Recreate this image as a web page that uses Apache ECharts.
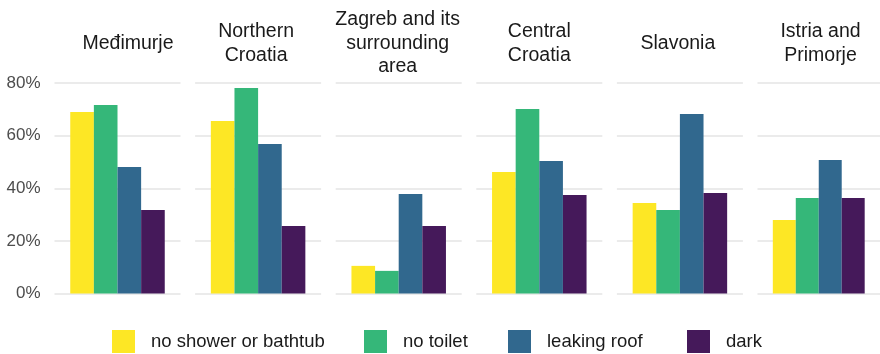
<!DOCTYPE html>
<html>
<head>
<meta charset="utf-8">
<script src="https://cdn.jsdelivr.net/npm/echarts@6/dist/echarts.min.js"></script>
<style>html,body{margin:0;padding:0;background:#fff}#c{width:880px;height:354px}</style>
</head>
<body>
<div id="c"></div>
<script>
const regions = ['Međimurje', 'Northern\nCroatia', 'Zagreb and its\nsurrounding\narea', 'Central\nCroatia', 'Slavonia', 'Istria and\nPrimorje'];
const seriesNames = ['no shower or bathtub', 'no toilet', 'leaking roof', 'dark'];
const noShower    = [69.0, 65.6, 10.5, 46.2, 34.4, 27.9];
const noToilet    = [71.6, 78.1,  8.6, 70.1, 31.7, 36.3];
const leakingRoof = [48.1, 56.8, 37.8, 50.4, 68.2, 50.7];
const dark        = [31.7, 25.7, 25.7, 37.4, 38.2, 36.3];
const yTicks = [0, 20, 40, 60, 80];

const values = [noShower, noToilet, leakingRoof, dark];
const colors = ['#FDE725', '#35B779', '#31688E', '#45195A'];

// layout
const panelLeft0 = 54.5, panelStep = 140.6, panelW = 126;
const gridTop = 83, gridH = 210.5;
const titleCenterY = 43.5, titleLH = 23.5;
const titleShift = [10.5, -2, -1, 0, -2, 0];
const legendLefts = [112, 364, 508, 687];
const FONT = 'Liberation Sans';

const grids = [], xAxes = [], yAxes = [], series = [], titles = [];
regions.forEach((r, i) => {
  const left = panelLeft0 + i * panelStep;
  grids.push({ left: left, top: gridTop, width: panelW, height: gridH, containLabel: false });
  xAxes.push({ type: 'category', gridIndex: i, data: [r], show: false });
  yAxes.push({
    type: 'value', gridIndex: i, min: yTicks[0], max: yTicks[yTicks.length - 1], interval: yTicks[1] - yTicks[0],
    axisLine: { show: false }, axisTick: { show: false },
    axisLabel: { show: i === 0, formatter: '{value}%', fontFamily: FONT, fontSize: 17, color: '#4D4D4D', margin: 14 },
    splitLine: { show: true, lineStyle: { color: '#EBEBEB', width: 2 } }
  });
  seriesNames.forEach((n, k) => {
    series.push({
      type: 'bar', name: n, xAxisIndex: i, yAxisIndex: i,
      data: [values[k][i]],
      itemStyle: { color: colors[k] },
      barGap: '0%', barCategoryGap: '25%',
      emphasis: { disabled: true }, silent: true
    });
  });
  const nLines = r.split('\n').length;
  titles.push({
    text: r,
    left: left + panelW / 2 + titleShift[i],
    top: titleCenterY - nLines * titleLH / 2,
    textAlign: 'center',
    padding: 0,
    textStyle: { fontFamily: FONT, fontSize: 19.5, fontWeight: 'normal', color: '#1A1A1A', lineHeight: titleLH, align: 'center' }
  });
});

const legends = seriesNames.map((n, k) => ({
  data: [n], left: legendLefts[k], top: 330, padding: 0,
  itemWidth: 23, itemHeight: 23, icon: 'rect', selectedMode: false,
  textStyle: { fontFamily: FONT, fontSize: 18.5, color: '#1A1A1A', padding: [0, 0, 0, 11] }
}));

const chart = echarts.init(document.getElementById('c'), null, { renderer: 'canvas' });
chart.setOption({
  animation: false,
  backgroundColor: '#ffffff',
  title: titles,
  legend: legends,
  grid: grids,
  xAxis: xAxes,
  yAxis: yAxes,
  series: series
});
</script>
</body>
</html>
